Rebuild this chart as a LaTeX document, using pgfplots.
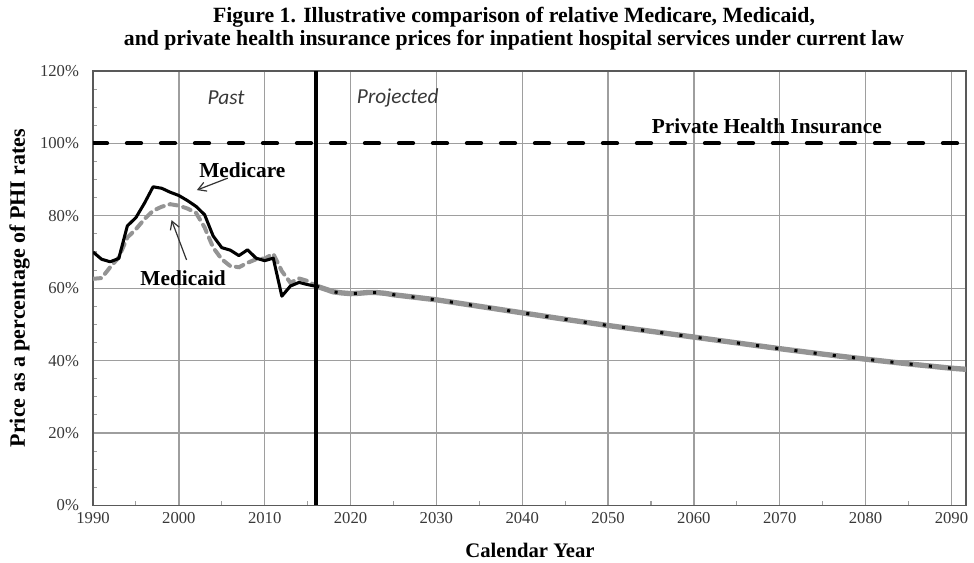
\documentclass[border=0pt]{standalone}
\usepackage{pgfplots}
\pgfplotsset{compat=1.18}
\usepackage{fontspec}
\setmainfont{Liberation Serif}
\newfontfamily\calfont{Carlito}
\usetikzlibrary{arrows.meta}
\definecolor{gridgray}{gray}{0.62}
\definecolor{caidgray}{gray}{0.58}
\definecolor{ticktext}{gray}{0.22}
\begin{document}
\begin{tikzpicture}
\begin{axis}[
  at={(69.75pt,42.4pt)}, anchor=south west,
  scale only axis,
  width=654.75pt, height=325.9pt,
  xmin=1990, xmax=2091.7, ymin=0, ymax=120,
  xtick={1990,2000,...,2090},
  ytick={0,20,...,120},
  minor x tick num=1, minor y tick num=3,
  xticklabel style={/pgf/number format/1000 sep={}},
  /pgf/number format/assume math mode=true,
  yticklabel={\pgfmathprintnumber{\tick}\%},
  ticklabel style={font=\fontsize{12.5}{14}\selectfont, text=ticktext},
  xtick pos=bottom, ytick pos=left,
  tick align=inside,
  major tick length=0pt, minor tick length=3pt,
  minor tick style={gridgray, line width=0.8pt},
  xmajorgrids, ymajorgrids,
  major grid style={gridgray, line width=1pt},
  axis line style={gray!70!black, line width=1pt},
  yticklabel style={xshift=-7pt},
  xticklabel style={yshift=-2pt},
  clip=true,
]
% Private health insurance
\addplot[black, line width=3.2pt, dash pattern=on 10.5pt off 15pt, line cap=round] coordinates {(1990,100) (2091.7,100)};
% Projected: Medicaid (gray) and Medicare (black dotted)
\addplot[caidgray, line width=4pt] coordinates {
(2016,60.6) (2017,59.8) (2018,59.0) (2019,58.7) (2020,58.5) (2021,58.6) (2022,58.8) (2023,58.8) (2024,58.6) (2025,58.2)
(2030,56.8) (2035,55.0) (2040,53.2) (2045,51.4) (2050,49.7) (2055,48.1) (2060,46.5) (2065,44.9) (2070,43.3) (2075,41.8)
(2080,40.4) (2085,39.1) (2090,37.9) (2091.7,37.6)};
\addplot[black, line width=2.3pt, dash pattern=on 2.3pt off 12.2pt] coordinates {
(2016,60.6) (2017,59.8) (2018,59.0) (2019,58.7) (2020,58.5) (2021,58.6) (2022,58.8) (2023,58.8) (2024,58.6) (2025,58.2)
(2030,56.8) (2035,55.0) (2040,53.2) (2045,51.4) (2050,49.7) (2055,48.1) (2060,46.5) (2065,44.9) (2070,43.3) (2075,41.8)
(2080,40.4) (2085,39.1) (2090,37.9) (2091.7,37.6)};
% Medicaid past
\addplot[caidgray, line width=3pt, dash pattern=on 6pt off 4.5pt, line cap=round] coordinates {
(1990,62.6) (1991,62.8) (1992,65.8) (1993,68.5) (1994,74.0) (1995,76.3) (1996,79.1) (1997,81.4) (1998,82.5) (1999,83.2)
(2000,82.8) (2001,82.0) (2002,80.8) (2003,76.8) (2004,71.2) (2005,68.0) (2006,66.1) (2007,65.8) (2008,67.0) (2009,68.0)
(2010,68.2) (2011,69.5) (2012,64.7) (2013,61.5) (2014,62.7) (2015,62.0) (2016,60.6)};
% Medicare past
\addplot[black, line width=2.3pt, line join=round] coordinates {
(1990,70.0) (1991,68.0) (1992,67.3) (1993,68.2) (1994,77.2) (1995,79.5) (1996,83.5) (1997,88.0) (1998,87.6) (1999,86.5)
(2000,85.6) (2001,84.2) (2002,82.6) (2003,80.3) (2004,74.4) (2005,71.2) (2006,70.5) (2007,69.0) (2008,70.6) (2009,68.3)
(2010,67.6) (2011,68.3) (2012,57.8) (2013,60.6) (2014,61.6) (2015,61.0) (2016,60.5)};
% Vertical divider
\addplot[black, line width=3pt] coordinates {(2016,0) (2016,120)};
% Annotations
\node[font=\calfont\itshape\fontsize{16}{18}\selectfont, text=ticktext] at (axis cs:2005.5,112.5) {Past};
\node[font=\calfont\itshape\fontsize{16}{18}\selectfont, text=ticktext] at (axis cs:2025.5,112.5) {Projected};
\node[font=\bfseries\fontsize{16}{18}\selectfont] at (axis cs:2068.5,104.8) {Private Health Insurance};
\node[font=\bfseries\fontsize{16}{18}\selectfont] at (axis cs:2007.4,92.7) {Medicare};
\node[font=\bfseries\fontsize{16}{18}\selectfont] at (axis cs:2000.5,62.8) {Medicaid};
\draw[black!80, line width=0.9pt, -{Straight Barb[length=6pt,width=7pt]}] (axis cs:2005.7,90.4) -- (axis cs:2002.1,87.1);
\draw[black!80, line width=0.9pt, -{Straight Barb[length=6pt,width=7pt]}] (axis cs:2000.9,67.8) -- (axis cs:1999.15,78.8);
\end{axis}
\node[font=\bfseries\fontsize{16.3}{18}\selectfont] at (385.5pt,408.75pt) {Figure 1. Illustrative comparison of relative Medicare, Medicaid,};
\node[font=\bfseries\fontsize{16.3}{18}\selectfont] at (385.5pt,391.5pt) {and private health insurance prices for inpatient hospital services under current law};
\node[font=\bfseries\fontsize{16.5}{18}\selectfont, rotate=90] at (14.6pt,205.5pt) {Price as a percentage of PHI rates};
\node[font=\bfseries\fontsize{15.5}{17}\selectfont, anchor=base] at (397.5pt,3.2pt) {Calendar Year};
\pgfresetboundingbox
\path[use as bounding box] (0,0) rectangle (730.5pt,421.5pt);
\end{tikzpicture}
\end{document}
